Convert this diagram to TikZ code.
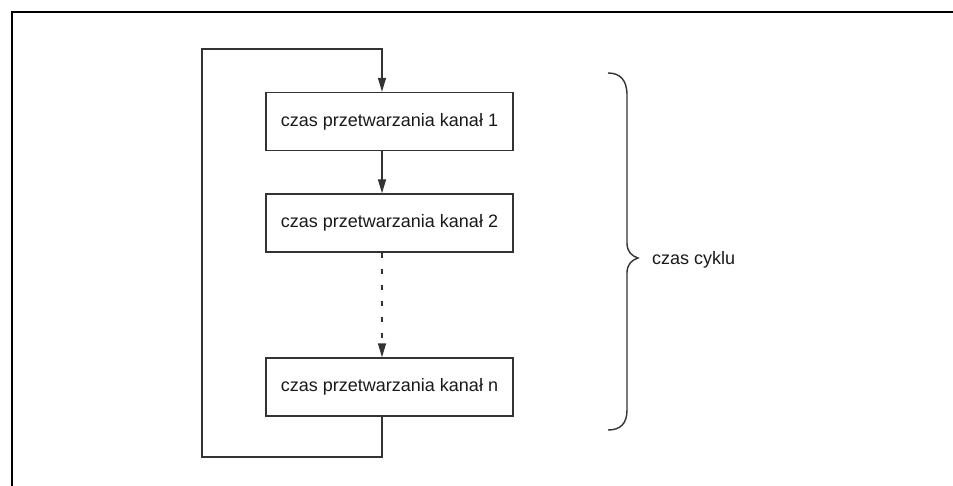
\documentclass[tikz,border=0pt]{standalone}
\usepackage{fontspec}
\setmainfont{Liberation Sans}
\usetikzlibrary{arrows.meta}
\begin{document}
\begin{tikzpicture}[x=1pt,y=-1pt,
  line/.style={draw=black!80, line width=1.4pt},
  stepbox/.style={line, minimum width=247pt, minimum height=58pt, inner sep=0pt,
    font=\fontsize{18}{20}\selectfont, text=black!90},
  tip/.style={-{Triangle[length=14pt,width=8pt]}}]
\useasboundingbox (0,0) rectangle (953,486);
\draw[line width=2.5pt] (12,486) -- (12,12) -- (953,12);
\node[stepbox] (b1) at (389.5,121.5) {czas przetwarzania kanał 1};
\node[stepbox] (b2) at (389.5,223) {czas przetwarzania kanał 2};
\node[stepbox] (bn) at (389.5,387) {czas przetwarzania kanał n};
\coordinate (tr) at (382,49);
\coordinate (tl) at (202,49);
\coordinate (bl) at (202,457);
\coordinate (br) at (382,457);
\draw[line, tip] (bn.south -| br) -- (br) -- (bl) -- (tl) -- (tr) -- (b1.north -| tr);
\draw[line, tip] (b1.south -| tr) -- (b2.north -| tr);
\draw[line, tip, dash pattern=on 5pt off 11pt] (b2.south -| tr) -- (bn.north -| tr);
\draw[line] (608,73) .. controls (620,73) and (627,80) .. (627,95) -- (627,243)
  .. controls (627,252) and (632,256) .. (638,258)
  .. controls (632,260) and (627,264) .. (627,273) -- (627,410)
  .. controls (627,424) and (620,430) .. (608,430);
\node[font=\fontsize{18}{20}\selectfont, text=black!90, anchor=west, inner sep=0pt] (cc) at (652,260) {czas cyklu};
\end{tikzpicture}
\end{document}
